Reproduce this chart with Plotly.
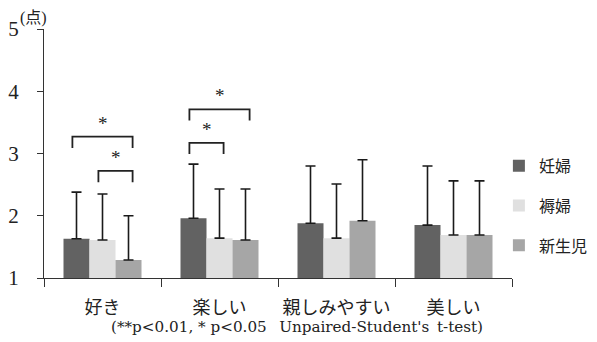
import plotly.graph_objects as go

categories = ["好き", "楽しい", "親しみやすい", "美しい"]
series_names = ["妊婦", "褥婦", "新生児"]
means_pregnant = [1.63, 1.96, 1.88, 1.85]
means_postpartum = [1.61, 1.64, 1.64, 1.69]
means_newborn = [1.29, 1.61, 1.92, 1.69]
sd_pregnant = [0.75, 0.87, 0.92, 0.95]
sd_postpartum = [0.74, 0.79, 0.87, 0.87]
sd_newborn = [0.71, 0.82, 0.98, 0.87]
colors = ["#626262", "#e0e0e0", "#a6a6a6"]
y_ticks = [1, 2, 3, 4, 5]
# significance: (category index, series a, series b, bracket level, label)
significance = [
    (0, 0, 2, 3.27, "*"),
    (0, 1, 2, 2.72, "*"),
    (1, 0, 2, 3.71, "*"),
    (1, 0, 1, 3.17, "*"),
]
footnote = "(**p<0.01, * p<0.05\u2002 Unpaired-Student's\u2002t-test)"
unit_label = "(点)"

serif = "Liberation Serif, Noto Sans CJK JP, serif"
wide_serif = "DejaVu Serif, Liberation Serif, serif"
means = [means_pregnant, means_postpartum, means_newborn]
sds = [sd_pregnant, sd_postpartum, sd_newborn]

bargap = 1 / 3
bar_w = (1 - bargap) / len(series_names)

fig = go.Figure()
for i, name in enumerate(series_names):
    fig.add_trace(go.Bar(
        x=categories, y=means[i], name=name, legendgroup=name,
        marker=dict(color=colors[i], line=dict(width=0)),
        error_y=dict(type="data", array=sds[i], arrayminus=[0] * len(categories),
                     symmetric=False, color="#1a1a1a", thickness=1.6, width=5),
    ))

shapes = []
annotations = []
tick_h = 0.18
for cat, a, b, lvl, lab in significance:
    xa = cat + (a - 1) * bar_w - 0.035
    xb = cat + (b - 1) * bar_w + 0.035
    shapes.append(dict(type="path", xref="x", yref="y",
                       path=f"M {xa},{lvl - tick_h} L {xa},{lvl} L {xb},{lvl} L {xb},{lvl - tick_h}",
                       line=dict(color="#222", width=1.8)))
    annotations.append(dict(x=(xa + xb) / 2, y=lvl, xref="x", yref="y", text=lab,
                            showarrow=False, yanchor="bottom", yshift=1,
                            font=dict(family=serif, size=19, color="#222")))

annotations.append(dict(x=0.54, y=-0.197, xref="paper", yref="paper", text=footnote,
                        showarrow=False, xanchor="center", yanchor="middle",
                        font=dict(family=wide_serif, size=15.2, color="#222")))
annotations.append(dict(x=-0.056, y=1.044, xref="paper", yref="paper", text=unit_label,
                        showarrow=False, xanchor="left", yanchor="middle",
                        font=dict(family=serif, size=16, color="#222")))

fig.update_layout(
    width=589, height=334,
    margin=dict(l=36, r=85, t=21, b=64, autoexpand=False),
    paper_bgcolor="white", plot_bgcolor="white",
    barmode="group", bargap=bargap, bargroupgap=0,
    font=dict(family=serif, color="#222"),
    showlegend=True,
    legend=dict(x=0.972, y=0.29, xanchor="left", yanchor="middle",
                font=dict(family=serif, size=16, color="#222"),
                tracegroupgap=16, itemwidth=30, bgcolor="rgba(0,0,0,0)"),
    shapes=shapes, annotations=annotations,
)
fig.update_xaxes(type="category", range=[-0.5, 3.5], tickson="boundaries",
                 ticks="outside", ticklen=8, tickwidth=1.3, tickcolor="#333",
                 tickangle=0, automargin=False, ticklabelstandoff=13,
                 showline=True, linecolor="#333", linewidth=1.3, showgrid=False,
                 tickfont=dict(family=serif, size=18, color="#222"))
fig.update_yaxes(range=[1, 5], tickvals=y_ticks, ticks="outside", ticklen=6,
                 tickwidth=1.3, tickcolor="#333", showline=True, linecolor="#333",
                 linewidth=1.3, showgrid=False, zeroline=False, automargin=False,
                 ticklabelstandoff=14,
                 tickfont=dict(family=serif, size=21, color="#222"))

fig.write_html("out.html")
